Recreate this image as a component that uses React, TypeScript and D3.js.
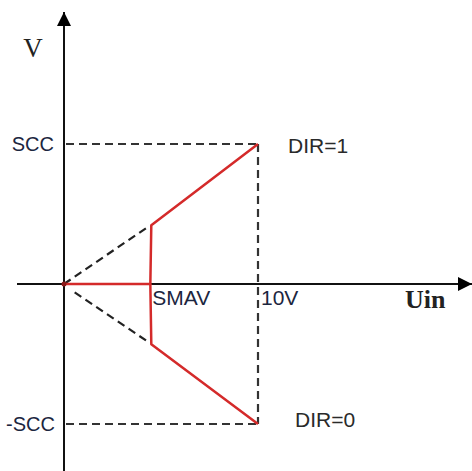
import React from "react";
import * as d3 from "d3";

// Uin in volts, V in units of SCC
const redUpper: [number, number][] = [[0, 0], [4.45, 0], [4.5, 0.42], [10, 1]];
const redLower: [number, number][] = [[4.45, 0], [4.5, -0.43], [10, -1]];
const guideUpper: [number, number][] = [[0, 0], [4.35, 0.41]];
const guideLower: [number, number][] = [[0.55, -0.06], [4.3, -0.41]];
const levelLabels = ["SCC", "-SCC"];
const levelValues = [1, -1];
const dirLabels = ["DIR=1", "DIR=0"];

const W = 472;
const H = 471;

export default function App() {
  const x = d3.scaleLinear().domain([0, 10]).range([64, 258]);
  const y = d3.scaleLinear().domain([-1, 1]).range([424, 144]);
  const line = d3.line<[number, number]>().x(d => x(d[0])).y(d => y(d[1]));

  const sans = "'Liberation Sans', Arial, sans-serif";
  const serif = "'Liberation Serif', 'Times New Roman', serif";
  const dash = "8,5";

  return (
    <svg width={W} height={H} style={{ position: "absolute", left: 0, top: 0, background: "#fff" }}>
      <defs>
        <marker id="arr" viewBox="0 0 10 10" refX="10" refY="5" markerWidth="7" markerHeight="8"
          markerUnits="strokeWidth" orient="auto">
          <path d="M0,0 L10,5 L0,10 z" fill="#000" />
        </marker>
      </defs>

      {/* guide dashes */}
      {levelValues.map((v, i) => (
        <line key={i} x1={x(0) + 2} x2={x(10)} y1={y(v)} y2={y(v)}
          stroke="#333" strokeWidth={2.2} strokeDasharray={dash} />
      ))}
      <line x1={x(10)} x2={x(10)} y1={y(1)} y2={y(-1)} stroke="#333" strokeWidth={2.2} strokeDasharray={dash} />
      <path d={line(guideUpper) ?? ""} fill="none" stroke="#222" strokeWidth={2.2} strokeDasharray={dash} />
      <path d={line(guideLower) ?? ""} fill="none" stroke="#222" strokeWidth={2.2} strokeDasharray={dash} />

      {/* axes */}
      <line x1={17} x2={W} y1={y(0)} y2={y(0)} stroke="#111" strokeWidth={2} markerEnd="url(#arr)" />
      <line x1={x(0)} x2={x(0)} y1={H} y2={12} stroke="#111" strokeWidth={2} markerEnd="url(#arr)" />

      {/* output characteristic */}
      <path d={line(redUpper) ?? ""} fill="none" stroke="#d42a2a" strokeWidth={2.5} strokeLinejoin="round" />
      <path d={line(redLower) ?? ""} fill="none" stroke="#d42a2a" strokeWidth={2.5} strokeLinejoin="round" />
      <circle cx={x(0)} cy={y(0)} r={2.5} fill="#8a1a1a" />

      {/* labels */}
      <text x={33} y={57} fontFamily={serif} fontSize={27} textAnchor="middle" fill="#222">V</text>
      <text x={54} y={y(1) + 7} fontFamily={sans} fontSize={20} textAnchor="end" fill="#1c2640">{levelLabels[0]}</text>
      <text x={55} y={y(-1) + 7} fontFamily={sans} fontSize={20} textAnchor="end" fill="#1c2640">{levelLabels[1]}</text>
      <text x={x(4.45) + 2} y={y(0) + 21} fontFamily={sans} fontSize={21} fill="#1c2640">SMAV</text>
      <text x={x(10) + 3} y={y(0) + 21} fontFamily={sans} fontSize={21} fill="#1c2640">10V</text>
      <text x={288} y={y(1) + 9} fontFamily={sans} fontSize={21} fill="#2a2a2a">{dirLabels[0]}</text>
      <text x={295} y={y(-1) + 3} fontFamily={sans} fontSize={21} fill="#2a2a2a">{dirLabels[1]}</text>
      <text x={405} y={308} fontFamily={serif} fontSize={26} fontWeight="bold" fill="#222">Uin</text>
    </svg>
  );
}
